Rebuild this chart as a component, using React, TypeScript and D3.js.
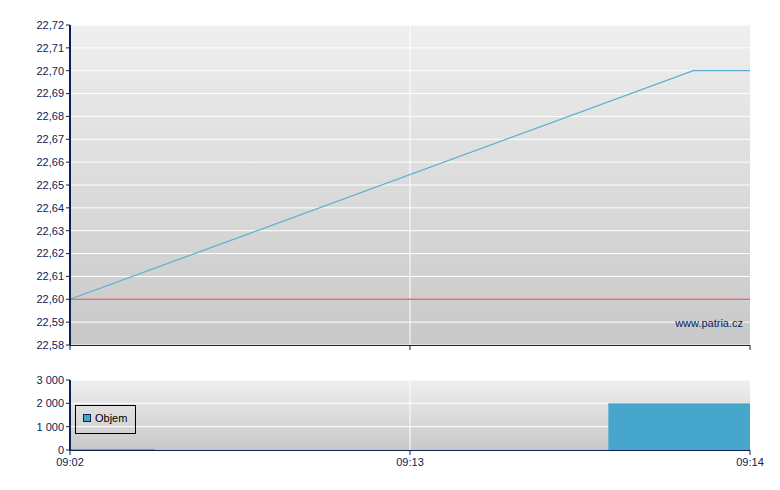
import React from 'react';
import * as d3 from 'd3';

const xTickSlots = [0, 12, 24];
const xTickLabels = ['09:02', '09:13', '09:14'];
const priceSlots = [0, 22, 24];
const priceValues = [22.6, 22.7, 22.7];
const prevClose = 22.6;
const yTicks = [22.58, 22.59, 22.6, 22.61, 22.62, 22.63, 22.64, 22.65, 22.66, 22.67, 22.68, 22.69, 22.7, 22.71, 22.72];
const volStart = [0, 19];
const volEnd = [3, 24];
const volValues = [40, 2000];
const volTicks = [0, 1000, 2000, 3000];

const W = 780, H = 490;
const L = 70, R = 750;
const mainTop = 25, mainBottom = 345;
const volTop = 380, volBottom = 450;
const navy = '#0b2255';
const font = 'Liberation Sans, Arial, sans-serif';

export default function App() {
  const x = d3.scaleLinear().domain([0, 24]).range([L, R]);
  const y = d3.scaleLinear().domain([22.58, 22.72]).range([mainBottom, mainTop]);
  const yv = d3.scaleLinear().domain([0, 3000]).range([volBottom, volTop]);
  const line = d3.line<number>().x((_, i) => x(priceSlots[i])).y(d => y(d));
  const fmt = (v: number) => v.toFixed(2).replace('.', ',');
  const fmtV = (v: number) => (v >= 1000 ? `${Math.floor(v / 1000)} ${String(v % 1000).padStart(3, '0')}` : String(v));

  return (
    <svg width={W} height={H} style={{ position: 'absolute', left: 0, top: 0 }} fontFamily={font}>
      <defs>
        <linearGradient id="gMain" x1="0" y1="0" x2="0" y2="1">
          <stop offset="0" stopColor="#efefef" />
          <stop offset="1" stopColor="#c8c8c8" />
        </linearGradient>
        <linearGradient id="gVol" x1="0" y1="0" x2="0" y2="1">
          <stop offset="0" stopColor="#efefef" />
          <stop offset="1" stopColor="#c8c8c8" />
        </linearGradient>
      </defs>
      <rect width={W} height={H} fill="#fff" />
      {/* main plot */}
      <rect x={L} y={mainTop} width={R - L} height={mainBottom - mainTop} fill="url(#gMain)" />
      {yTicks.map(t => (
        <line key={t} x1={L} x2={R} y1={y(t)} y2={y(t)} stroke="#fff" strokeWidth={1} />
      ))}
      {xTickSlots.slice(1, -1).map(s => (
        <line key={s} x1={x(s)} x2={x(s)} y1={mainTop} y2={mainBottom} stroke="#fff" />
      ))}
      <line x1={L} x2={R} y1={y(prevClose)} y2={y(prevClose)} stroke="#dc7272" strokeWidth={1.5} />
      <path d={line(priceValues) || ''} fill="none" stroke="#5aaed2" strokeWidth={1.2} />
      <text x={743} y={327} textAnchor="end" fontSize={11} fill={navy}>www.patria.cz</text>
      {/* main axes */}
      <line x1={L} x2={L} y1={mainTop} y2={mainBottom + 0.5} stroke={navy} strokeWidth={2} />
      <line x1={L} x2={R} y1={mainBottom + 0.5} y2={mainBottom + 0.5} stroke={navy} strokeWidth={1} />
      {yTicks.map(t => (
        <g key={t}>
          <line x1={L - 4} x2={L} y1={y(t)} y2={y(t)} stroke={navy} />
          <text x={L - 6} y={y(t)} dy="0.35em" textAnchor="end" fontSize={11} fill={navy}>{fmt(t)}</text>
        </g>
      ))}
      {xTickSlots.map(s => (
        <line key={s} x1={x(s)} x2={x(s)} y1={mainBottom} y2={mainBottom + 5} stroke={navy} />
      ))}
      {/* volume plot */}
      <rect x={L} y={volTop} width={R - L} height={volBottom - volTop} fill="url(#gVol)" />
      {volTicks.slice(1).map(t => (
        <line key={t} x1={L} x2={R} y1={yv(t)} y2={yv(t)} stroke="#fff" />
      ))}
      {xTickSlots.slice(1, -1).map(s => (
        <line key={s} x1={x(s)} x2={x(s)} y1={volTop} y2={volBottom} stroke="#fff" />
      ))}
      {volValues.map((v, i) => (
        <rect key={i} x={x(volStart[i])} y={yv(v)} width={x(volEnd[i]) - x(volStart[i])} height={volBottom - yv(v)} fill="#46a6cc" />
      ))}
      <line x1={L} x2={L} y1={volTop} y2={volBottom + 0.5} stroke={navy} strokeWidth={2} />
      <line x1={L} x2={R} y1={volBottom + 0.5} y2={volBottom + 0.5} stroke={navy} strokeWidth={1} />
      {volTicks.map(t => (
        <g key={t}>
          <line x1={L - 4} x2={L} y1={yv(t)} y2={yv(t)} stroke={navy} />
          <text x={L - 6} y={yv(t)} dy="0.35em" textAnchor="end" fontSize={11} fill={navy}>{fmtV(t)}</text>
        </g>
      ))}
      {xTickSlots.map((s, i) => (
        <g key={s}>
          <line x1={x(s)} x2={x(s)} y1={volBottom} y2={volBottom + 5} stroke={navy} />
          <text x={x(s)} y={volBottom + 16} textAnchor="middle" fontSize={11} fill={navy}>{xTickLabels[i]}</text>
        </g>
      ))}
      {/* legend */}
      <rect x={75.5} y={405.5} width={60} height={28} fill="none" stroke="#000" />
      <rect x={83.5} y={414.5} width={7} height={7} fill="#46a6cc" stroke="#0b2255" />
      <text x={95} y={422} fontSize={11} fill="#000">Objem</text>
    </svg>
  );
}
